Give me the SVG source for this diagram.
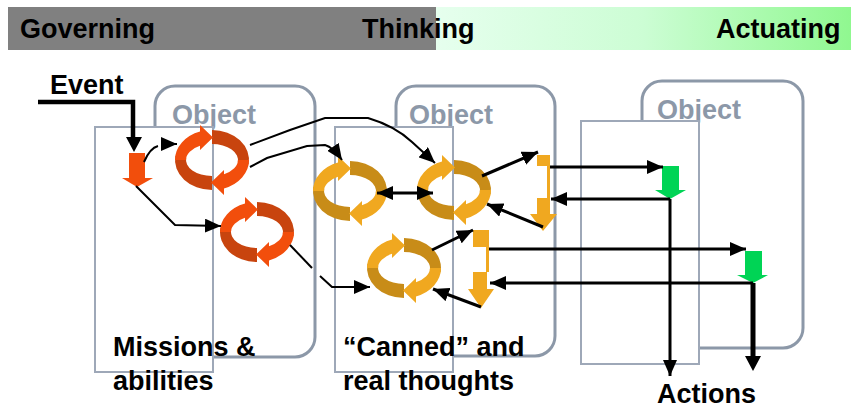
<svg xmlns="http://www.w3.org/2000/svg" width="861" height="408" viewBox="0 0 861 408">
  <style>
    text { font-family: "Liberation Sans", Arial, sans-serif; font-weight: bold; }
    .hdr { font-size: 27px; fill: #000; }
    .lbl { font-size: 27px; fill: #000; }
    .otitle { font-size: 27px; fill: #8C98A8; }
    .obj { fill: #fff; stroke: #8C98A8; stroke-width: 3; }
    .inner { fill: #fff; stroke: #9EA8B8; stroke-width: 2; }
    .ln { fill: none; stroke: #000; stroke-width: 3; }
    .thin { fill: none; stroke: #000; stroke-width: 2; }
    .gold { fill: #F0A820; }
    .green { fill: #00D455; }
  </style>
  <defs>
    <linearGradient id="actGrad" x1="0" y1="0" x2="1" y2="0">
      <stop offset="0" stop-color="#E6FFEE"/>
      <stop offset="0.5" stop-color="#CCFDD4"/>
      <stop offset="1" stop-color="#90F890"/>
    </linearGradient>
    <marker id="ah" viewBox="0 0 16 14" refX="16" refY="7" markerWidth="16" markerHeight="14" markerUnits="userSpaceOnUse" orient="auto-start-reverse">
      <path d="M0,0 L16,7 L0,14 Z" fill="#000"/>
    </marker>
    <!-- cycle icon: two curved arrows forming a loop; fill = light tone, color = dark tone -->
    <g id="cyc">
      <path fill="currentColor" d="M0,-30 A37,30 0 0 1 36.64,4.18 L25.75,2.23 A26,16 0 0 0 0,-16 Z"/>
      <path fill="currentColor" transform="rotate(180)" d="M0,-30 A37,30 0 0 1 36.64,4.18 L25.75,2.23 A26,16 0 0 0 0,-16 Z"/>
      <path d="M-37,0 A37,30 0 0 1 -12,-28.38 L-12,-35 L1,-22.5 L-12,-10 L-12,-14.19 A26,16 0 0 0 -26,0 Z"/>
      <path transform="rotate(180)" d="M-37,0 A37,30 0 0 1 -12,-28.38 L-12,-35 L1,-22.5 L-12,-10 L-12,-14.19 A26,16 0 0 0 -26,0 Z"/>
    </g>
  </defs>

  <!-- header band -->
  <g id="header">
    <rect x="8" y="7" width="428" height="43" fill="#808080"/>
    <rect x="436" y="7" width="415" height="43" fill="url(#actGrad)"/>
    <text class="hdr" x="20" y="38">Governing</text>
    <text class="hdr" x="362" y="38">Thinking</text>
    <text class="hdr" x="716" y="38">Actuating</text>
  </g>

  <!-- governing object -->
  <g id="object-governing">
    <rect class="obj" x="155" y="86" width="160" height="271" rx="20" ry="20"/>
    <text class="otitle" x="172" y="124">Object</text>
    <rect class="inner" x="95" y="127" width="118" height="245"/>
  </g>

  <!-- thinking object -->
  <g id="object-thinking">
    <rect class="obj" x="396" y="86" width="159" height="270" rx="20" ry="20"/>
    <text class="otitle" x="409" y="124">Object</text>
    <rect class="inner" x="335" y="127" width="118" height="245"/>
  </g>

  <!-- actuating object -->
  <g id="object-actuating">
    <rect class="obj" x="642" y="81" width="161" height="267" rx="20" ry="20"/>
    <text class="otitle" x="657" y="119">Object</text>
    <rect class="inner" x="581" y="121" width="118" height="243"/>
  </g>

  <!-- event input -->
  <g id="event">
    <text class="lbl" x="50" y="94">Event</text>
    <path d="M38,102 H133 V140" fill="none" stroke="#000" stroke-width="4.5"/>
    <path d="M126,137 L142,137 L134,152 Z" fill="#000"/>
    <path d="M129,153 H145 V178 H153 L137,187 L122,178 H129 Z" fill="#F24E0C"/>
  </g>

  <!-- cycles -->
  <g id="cycle-mission-1"><use href="#cyc" transform="translate(212,160)" fill="#F24E0C" color="#C8440E"/></g>
  <g id="cycle-mission-2"><use href="#cyc" transform="translate(257,232)" fill="#F24E0C" color="#C8440E"/></g>
  <g id="cycle-thought-1"><use href="#cyc" transform="translate(350,191)" fill="#F0A820" color="#C88C18"/></g>
  <g id="cycle-thought-2"><use href="#cyc" transform="translate(454,190)" fill="#F0A820" color="#C88C18"/></g>
  <g id="cycle-thought-3"><use href="#cyc" transform="translate(404,268)" fill="#F0A820" color="#C88C18"/></g>

  <!-- thinking outputs -->
  <g id="output-1">
    <rect class="gold" x="537" y="155" width="13" height="11"/>
    <rect class="gold" x="547" y="166" width="3" height="32"/>
    <path class="gold" d="M537,198 H550 V214 H557 L543,231 L530,214 H537 Z"/>
  </g>
  <g id="output-2">
    <rect class="gold" x="473" y="230" width="16" height="17"/>
    <rect class="gold" x="486" y="247" width="3" height="25"/>
    <path class="gold" d="M473,272 H487 V289 H494 L481,308 L468,289 H473 Z"/>
  </g>

  <!-- actuators -->
  <g id="actuator-1">
    <path class="green" d="M662,166 H679 V190 H686 L670,199 L655,190 H662 Z"/>
  </g>
  <g id="actuator-2">
    <path class="green" d="M745,251 H762 V275 H768 L753,283 L737,275 H745 Z"/>
  </g>

  <!-- connectors -->
  <g id="connectors">
    <path class="thin" d="M144,162 Q150,148 158,146" />
    <path class="thin" d="M162,144 L177,144" marker-end="url(#ah)"/>
    <path class="thin" d="M136,186 L175,225 L221,226" marker-end="url(#ah)"/>
    <path class="thin" d="M250,145 L290,130 L325,118 L368,118 Q395,126 412,142 L435,163" marker-end="url(#ah)"/>
    <path class="thin" d="M250,167 L267,158 L307,146 L325,145 Q333,147 342,160" marker-end="url(#ah)"/>
    <path class="thin" d="M290,245 L312,268"/>
    <path class="thin" d="M320,276 L332,287 L370,287" marker-end="url(#ah)"/>
    <path class="ln" d="M377,193 L433,193" marker-start="url(#ah)" marker-end="url(#ah)"/>
    <path class="ln" d="M482,176 L538,152" marker-end="url(#ah)"/>
    <path class="ln" d="M543,227 L487,204" marker-end="url(#ah)"/>
    <path class="ln" d="M432,250 L473,230" marker-end="url(#ah)"/>
    <path class="ln" d="M481,307 L433,289" marker-end="url(#ah)"/>
    <path class="ln" d="M550,167 L663,167" marker-end="url(#ah)"/>
    <path class="ln" d="M670,199 L551,199" marker-end="url(#ah)"/>
    <path class="ln" d="M670,199 L670,376" marker-end="url(#ah)"/>
    <path class="ln" d="M489,249 L746,249" marker-end="url(#ah)"/>
    <path class="ln" d="M753,283 L490,283" marker-end="url(#ah)"/>
    <path d="M753,283 L753,358" fill="none" stroke="#000" stroke-width="5"/>
    <path d="M745,356 L761,356 L753,371 Z" fill="#000"/>
  </g>

  <!-- captions -->
  <g id="captions">
    <text class="lbl" x="113" y="356">Missions &amp;</text>
    <text class="lbl" x="113" y="390">abilities</text>
    <text class="lbl" x="343" y="356">“Canned” and</text>
    <text class="lbl" x="343" y="390">real thoughts</text>
    <text class="lbl" x="657" y="403">Actions</text>
  </g>
</svg>
